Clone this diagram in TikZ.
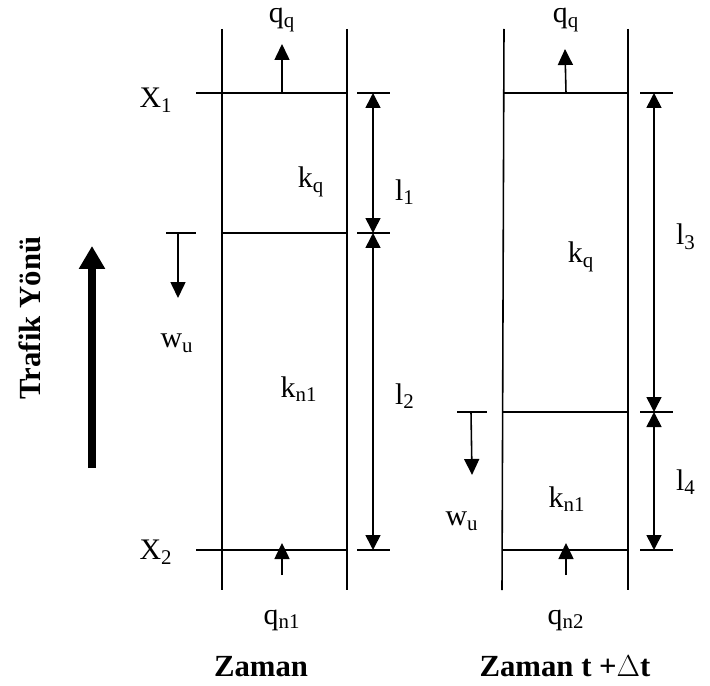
\documentclass[tikz,border=0pt]{standalone}
\usepackage{fontspec}
\setmainfont{Liberation Serif}
\usetikzlibrary{arrows.meta}

\begin{document}
\begin{tikzpicture}[
                x=0.02cm,y=-0.02cm,
                line width=0.9pt,
                every node/.style={font=\fontsize{17}{20}\selectfont,inner sep=0pt},
                flow/.style={-{Triangle[length=3.2mm,width=3mm]}},
                dimline/.style={{Triangle[length=3mm,width=3mm]}-{Triangle[length=3mm,width=3mm]}},
                caption/.style={font=\fontsize{17.5}{20}\selectfont\bfseries}
            ]
            \useasboundingbox (0,0) rectangle (710,686);

            % time t
            \coordinate (LlaneT) at (222,29);  \coordinate (LlaneB) at (222,590);
            \coordinate (RlaneT) at (347,29);  \coordinate (RlaneB) at (347,590);
            \draw (LlaneT) -- (LlaneB);
            \draw (RlaneT) -- (RlaneB);

            \coordinate (x1a) at (196,93);  \coordinate (x1b) at (348,93);
            \coordinate (m1a) at (222,233); \coordinate (m1b) at (348,233);
            \coordinate (x2a) at (196,550); \coordinate (x2b) at (348,550);
            \draw (x1a) -- (x1b);
            \draw (m1a) -- (m1b);
            \draw (x2a) -- (x2b);

            \node (X1) at (156,100) {X\textsubscript{1}};
            \node (X2) at (156,552) {X\textsubscript{2}};
            \node (kq1) at (311,182) {k\textsubscript{q}};
            \node (kn1) at (299,389) {k\textsubscript{n1}};

            \node[anchor=base] (qq1) at (282,23) {q\textsubscript{q}};
            \coordinate (qq1s) at (282,93); \coordinate (qq1e) at (282,44);
            \draw[flow] (qq1s) -- (qq1e);
            \node (qn1) at (282,620) {q\textsubscript{n1}};
            \coordinate (qn1s) at (282,575); \coordinate (qn1e) at (282,543);
            \draw[flow] (qn1s) -- (qn1e);

            % shock wave
            \coordinate (w1a) at (166,233); \coordinate (w1b) at (196,233);
            \draw (w1a) -- (w1b);
            \coordinate (w1s) at (178,233); \coordinate (w1e) at (178,298);
            \draw[flow] (w1s) -- (w1e);
            \node (wu1) at (177,343) {w\textsubscript{u}};

            % lengths
            \foreach \y/\n in {93/t1,233/t2,550/t3}
                \draw (357,\y) coordinate (\n a) -- (390,\y) coordinate (\n b);
            \coordinate (d1) at (373,93); \coordinate (d2) at (373,233); \coordinate (d3) at (373,550);
            \draw[dimline] (d1) -- (d2);
            \draw[dimline] (d2) -- (d3);
            \node (l1) at (405,192) {l\textsubscript{1}};
            \node (l2) at (405,396) {l\textsubscript{2}};

            % time t + dt
            \coordinate (LlaneT2) at (504,29);  \coordinate (LlaneB2) at (502,590);
            \coordinate (RlaneT2) at (628,29);  \coordinate (RlaneB2) at (628,590);
            \draw (LlaneT2) -- (LlaneB2);
            \draw (RlaneT2) -- (RlaneB2);

            \coordinate (y1a) at (503,93);  \coordinate (y1b) at (628,93);
            \coordinate (m2a) at (503,412); \coordinate (m2b) at (628,412);
            \coordinate (y2a) at (503,550); \coordinate (y2b) at (628,550);
            \draw (y1a) -- (y1b);
            \draw (m2a) -- (m2b);
            \draw (y2a) -- (y2b);

            \node (kq2) at (581,257) {k\textsubscript{q}};
            \node (kn2) at (567,499) {k\textsubscript{n1}};

            \node[anchor=base] (qq2) at (566,23) {q\textsubscript{q}};
            \coordinate (qq2s) at (566,93); \coordinate (qq2e) at (565,49);
            \draw[flow] (qq2s) -- (qq2e);
            \node (qn2) at (566,620) {q\textsubscript{n2}};
            \coordinate (qn2s) at (566,575); \coordinate (qn2e) at (566,543);
            \draw[flow] (qn2s) -- (qn2e);

            \coordinate (w2a) at (457,412); \coordinate (w2b) at (487,412);
            \draw (w2a) -- (w2b);
            \coordinate (w2s) at (471,412); \coordinate (w2e) at (472,475);
            \draw[flow] (w2s) -- (w2e);
            \node (wu2) at (462,521) {w\textsubscript{u}};

            \foreach \y/\n in {93/s1,412/s2,550/s3}
                \draw (640,\y) coordinate (\n a) -- (673,\y) coordinate (\n b);
            \coordinate (e1) at (654,93); \coordinate (e2) at (654,412); \coordinate (e3) at (654,550);
            \draw[dimline] (e1) -- (e2);
            \draw[dimline] (e2) -- (e3);
            \node (l3) at (686,237) {l\textsubscript{3}};
            \node (l4) at (686,482) {l\textsubscript{4}};

            % direction
            \node[caption,rotate=90] (dir) at (30,318) {Trafik Yönü};
            \coordinate (dirs) at (92,468); \coordinate (dire) at (92,246);
            \draw[line width=4.5pt,-{Triangle[length=4.6mm,width=5mm]}] (dirs) -- (dire);

            \node[caption,anchor=base] (zt1) at (261,676) {Zaman};
            \node[caption,anchor=base] (zt2) at (565,676) {Zaman t +$\Delta$t};

        \end{tikzpicture}
\end{document}
